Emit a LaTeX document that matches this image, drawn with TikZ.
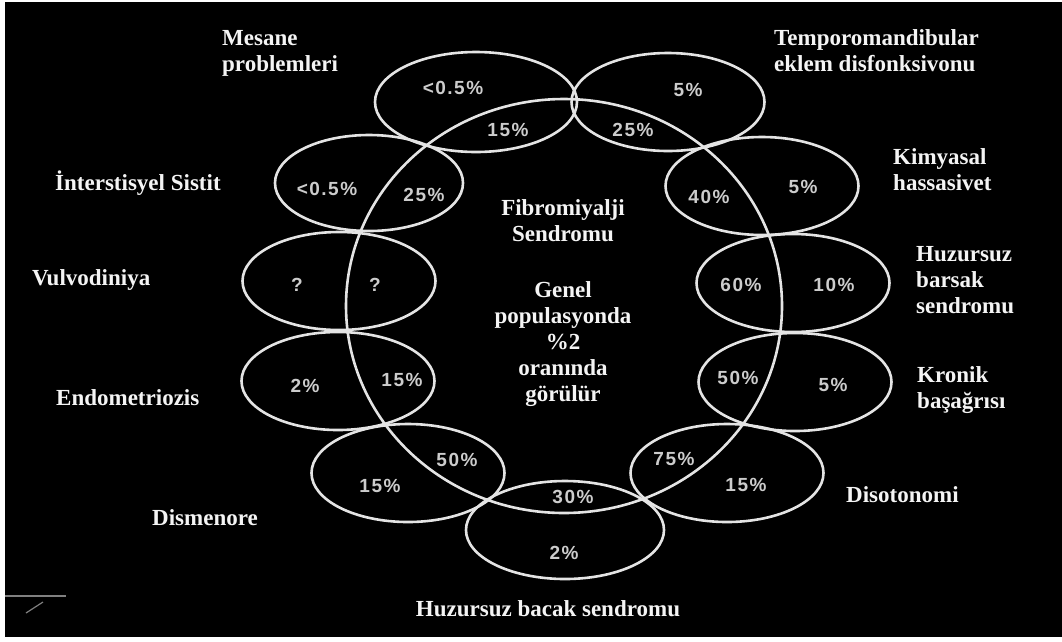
\documentclass[tikz,border=0pt]{standalone}
\usepackage{fontspec}
\setmainfont{Liberation Serif}
\newfontfamily\pctfont[LetterSpace=8]{Liberation Sans}
\usetikzlibrary{shapes.geometric}
\definecolor{ringgray}{HTML}{E4E4E4}
\definecolor{pctgray}{HTML}{CCCCCC}
\definecolor{lblwhite}{HTML}{F4F4F4}
\begin{document}
\begin{tikzpicture}
[
    x=1pt, y=-1pt,
    ring/.style={ellipse, draw=ringgray, line width=2.6pt, inner sep=0pt, minimum width=193pt, minimum height=98pt},
    pct/.style={font=\pctfont\bfseries\fontsize{19}{21}\selectfont, text=pctgray, inner sep=0pt},
    lbl/.style={font=\bfseries\fontsize{23}{26}\selectfont, text=lblwhite, align=left, inner sep=0pt, anchor=base west},
]
\fill[white] (0,0) rectangle (1062,641);
\fill[black] (5,2) rectangle (1062,637);
\useasboundingbox (0,0) rectangle (1062,641);
% the big ring and the eleven small ones
\node[ring, minimum width=436pt, minimum height=414pt] (fibro) at (564,306) {};
\node[ring, minimum width=202pt, minimum height=100pt] (mesane) at (476,102) {};
\node[ring] (tmd) at (668,102) {};
\node[ring] (kimya) at (762,186) {};
\node[ring] (barsak) at (793,283) {};
\node[ring] (kronik) at (795,382) {};
\node[ring] (diso) at (727,473) {};
\node[ring, minimum width=198pt] (bacak) at (565,530) {};
\node[ring] (dismen) at (408,473) {};
\node[ring] (endo) at (338,381) {};
\node[ring] (vulvo) at (339,281) {};
\node[ring, minimum width=188pt, minimum height=96pt] (sistit) at (369,183) {};
% percentages
\node[pct] (mesane-a) at (453,88) {<0.5\%};
\node[pct] (mesane-b) at (508,130) {15\%};
\node[pct] (tmd-a) at (688,90) {5\%};
\node[pct] (tmd-b) at (633,130) {25\%};
\node[pct] (kimya-a) at (709,197) {40\%};
\node[pct] (kimya-b) at (803,187) {5\%};
\node[pct] (barsak-a) at (741,285) {60\%};
\node[pct] (barsak-b) at (834,285) {10\%};
\node[pct] (kronik-a) at (738,378) {50\%};
\node[pct] (kronik-b) at (833,385) {5\%};
\node[pct] (diso-a) at (674,459) {75\%};
\node[pct] (diso-b) at (746,485) {15\%};
\node[pct] (bacak-a) at (573,497) {30\%};
\node[pct] (bacak-b) at (564,553) {2\%};
\node[pct] (dismen-a) at (457,460) {50\%};
\node[pct] (dismen-b) at (380,486) {15\%};
\node[pct] (endo-a) at (305,386) {2\%};
\node[pct] (endo-b) at (402,380) {15\%};
\node[pct] (vulvo-a) at (297,285) {?};
\node[pct] (vulvo-b) at (375,285) {?};
\node[pct] (sistit-a) at (327,189) {<0.5\%};
\node[pct] (sistit-b) at (424,195) {25\%};
% names (base = last line)
\node[lbl] (mesane-t) at (222,71) {Mesane\\problemleri};
\node[lbl] (tmd-t) at (774,71) {Temporomandibular\\eklem disfonksivonu};
\node[lbl] (kimya-t) at (893,190) {Kimyasal\\hassasivet};
\node[lbl] (barsak-t) at (916,313) {Huzursuz\\barsak\\sendromu};
\node[lbl] (kronik-t) at (917,408) {Kronik\\başağrısı};
\node[lbl] (diso-t) at (846,502) {Disotonomi};
\node[lbl, anchor=base] (bacak-t) at (548,616) {Huzursuz bacak sendromu};
\node[lbl] (dismen-t) at (152,525) {Dismenore};
\node[lbl] (endo-t) at (56,405) {Endometriozis};
\node[lbl] (vulvo-t) at (32,285) {Vulvodiniya};
\node[lbl] (sistit-t) at (55,190) {İnterstisyel Sistit};
\node[lbl, align=center, anchor=base] (fibro-t) at (563,241) {Fibromiyalji\\Sendromu};
\node[lbl, align=center, anchor=base] (fibro-r) at (563,401) {Genel\\populasyonda\\\%2\\oranında\\görülür};
% scan marks
\draw[gray, line width=1.5pt] (5,596) -- (66,596);
\draw[gray, line width=1.2pt] (26,613) -- (43,602);
\end{tikzpicture}
\end{document}
